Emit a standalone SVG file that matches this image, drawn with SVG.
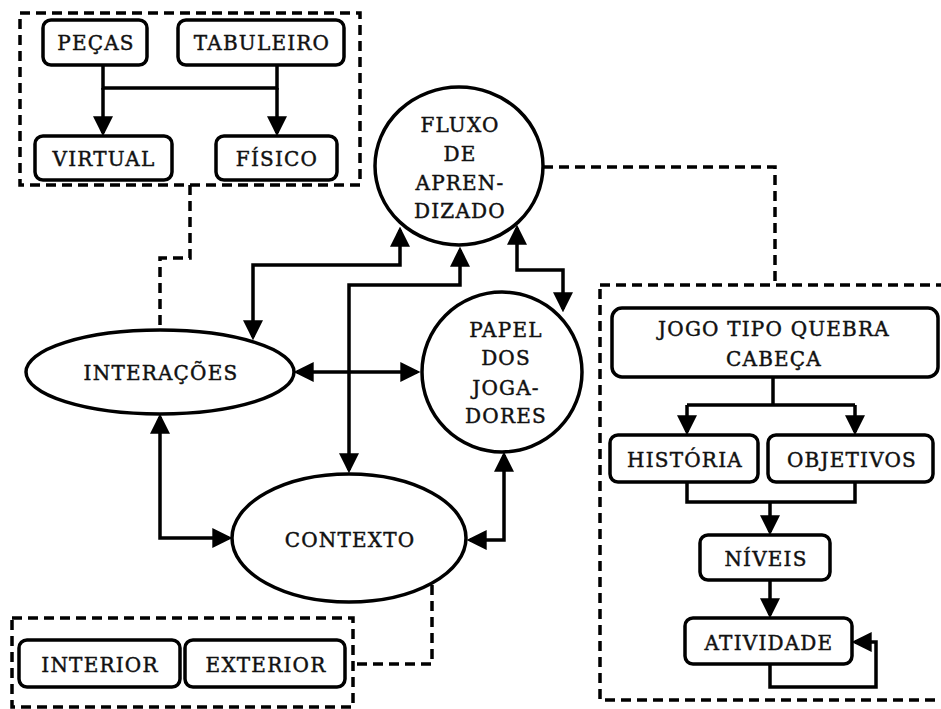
<svg xmlns="http://www.w3.org/2000/svg" width="941" height="709" viewBox="0 0 941 709" font-family="'DejaVu Serif', 'Liberation Serif', serif">
  <style>
    .box { fill: #fff; stroke: #000; stroke-width: 3.5; }
    .shape { fill: #fff; stroke: #000; stroke-width: 3.5; }
    .frame { fill: none; stroke: #000; stroke-width: 3.5; stroke-dasharray: 10 6; }
    .link { fill: none; stroke: #000; stroke-width: 3.5; stroke-dasharray: 10 6; }
    .wire { fill: none; stroke: #000; stroke-width: 3.5; stroke-linejoin: miter; }
    .arrow { marker-end: url(#head); }
    .both { marker-start: url(#head); marker-end: url(#head); }
    text { font-family: "DejaVu Serif", "Liberation Serif", serif; font-size: 20px; letter-spacing: 1.2px; text-anchor: middle; fill: #111; stroke: #111; stroke-width: 0.45; }
  </style>
  <defs>
    <marker id="head" markerUnits="userSpaceOnUse" markerWidth="20" markerHeight="20" viewBox="0 0 18 18" refX="15" refY="9" orient="auto-start-reverse">
      <path d="M0,0 L18,9 L0,18 z" fill="#000"/>
    </marker>
  </defs>

  <!-- dashed grouping frames -->
  <g id="frames">
    <rect class="frame" x="20" y="13" width="340" height="172"/>
    <rect class="frame" x="12" y="618" width="341" height="89"/>
    <rect class="frame" x="600" y="285" width="360" height="415"/>
  </g>

  <!-- connectors -->
  <g id="connectors">
    <!-- pieces / board to virtual / physical -->
    <path class="wire" d="M103,65 V88 H277 V65"/>
    <path class="wire arrow" d="M103,88 V133"/>
    <path class="wire arrow" d="M277,88 V133"/>

    <!-- puzzle game tree -->
    <path class="wire" d="M773,377 V405"/>
    <path class="wire" d="M687,405 H855"/>
    <path class="wire arrow" d="M687,405 V432"/>
    <path class="wire arrow" d="M855,405 V432"/>
    <path class="wire" d="M687,482 V502 H855 V482"/>
    <path class="wire arrow" d="M770,502 V532"/>
    <path class="wire arrow" d="M770,580 V615"/>
    <path class="wire arrow" d="M770,664 V687 H876 V642 H855"/>

    <!-- main concept links -->
    <path class="wire both" d="M253,337 V265 H400 V230"/>
    <path class="wire both" d="M349,470 V285 H460 V250"/>
    <path class="wire both" d="M517,228 V270 H563 V309"/>
    <path class="wire both" d="M297,372 H417"/>
    <path class="wire both" d="M160,417 V538 H229"/>
    <path class="wire both" d="M470,540 H504 V455"/>

    <!-- dashed links between concepts and frames -->
    <path class="link" d="M190,185 V258 H160 V330"/>
    <path class="link" d="M543,167 H775 V285"/>
    <path class="link" d="M432,585 V664 H353"/>
  </g>

  <!-- top-left frame contents -->
  <g id="pecas">
    <rect class="box" x="43" y="20" width="104" height="45" rx="8"/>
    <text x="96" y="50">PEÇAS</text>
  </g>
  <g id="tabuleiro">
    <rect class="box" x="178" y="20" width="166" height="45" rx="8"/>
    <text x="262" y="50">TABULEIRO</text>
  </g>
  <g id="virtual">
    <rect class="box" x="35" y="136" width="137" height="44" rx="8"/>
    <text x="104" y="166">VIRTUAL</text>
  </g>
  <g id="fisico">
    <rect class="box" x="216" y="136" width="121" height="44" rx="8"/>
    <text x="277" y="166">FÍSICO</text>
  </g>

  <!-- central concepts -->
  <g id="fluxo">
    <ellipse class="shape" cx="459" cy="166" rx="84" ry="79"/>
    <text x="460" y="132">FLUXO</text>
    <text x="460" y="161">DE</text>
    <text x="460" y="190">APREN-</text>
    <text x="460" y="218">DIZADO</text>
  </g>
  <g id="interacoes">
    <ellipse class="shape" cx="160" cy="372" rx="134" ry="42"/>
    <text x="161" y="380">INTERAÇÕES</text>
  </g>
  <g id="papel">
    <ellipse class="shape" cx="502" cy="372" rx="80" ry="80"/>
    <text x="506" y="337">PAPEL</text>
    <text x="506" y="365">DOS</text>
    <text x="506" y="395">JOGA-</text>
    <text x="506" y="423">DORES</text>
  </g>
  <g id="contexto">
    <ellipse class="shape" cx="349" cy="538" rx="117" ry="64"/>
    <text x="350" y="547">CONTEXTO</text>
  </g>

  <!-- bottom-left frame contents -->
  <g id="interior">
    <rect class="box" x="19" y="640" width="161" height="47" rx="8"/>
    <text x="100" y="672">INTERIOR</text>
  </g>
  <g id="exterior">
    <rect class="box" x="185" y="640" width="160" height="47" rx="8"/>
    <text x="266" y="672">EXTERIOR</text>
  </g>

  <!-- right frame contents -->
  <g id="jogo">
    <rect class="box" x="612" y="308" width="326" height="69" rx="10"/>
    <text x="774" y="336">JOGO TIPO QUEBRA</text>
    <text x="774" y="366">CABEÇA</text>
  </g>
  <g id="historia">
    <rect class="box" x="610" y="435" width="148" height="47" rx="8"/>
    <text x="685" y="467">HISTÓRIA</text>
  </g>
  <g id="objetivos">
    <rect class="box" x="768" y="435" width="165" height="47" rx="8"/>
    <text x="852" y="467">OBJETIVOS</text>
  </g>
  <g id="niveis">
    <rect class="box" x="700" y="535" width="130" height="45" rx="8"/>
    <text x="766" y="566">NÍVEIS</text>
  </g>
  <g id="atividade">
    <rect class="box" x="685" y="618" width="167" height="46" rx="8"/>
    <text x="769" y="650">ATIVIDADE</text>
  </g>
</svg>
